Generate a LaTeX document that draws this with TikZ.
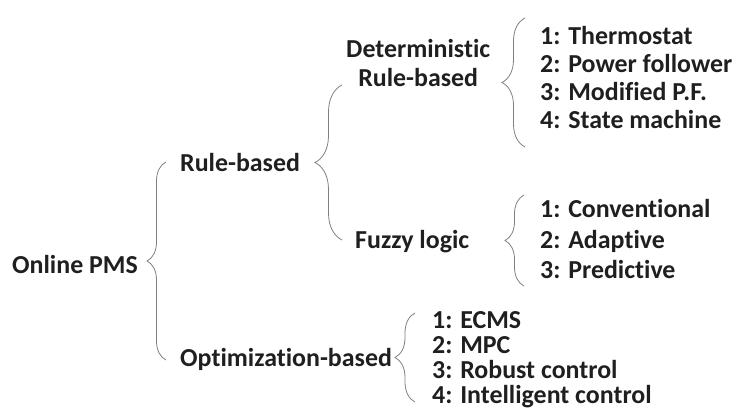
\documentclass[tikz,border=0pt]{standalone}
\usepackage{fontspec}
\setmainfont[Ligatures=NoCommon]{Carlito}
\usetikzlibrary{decorations.pathreplacing,calc}
\tikzset{
  lbl/.style={font=\bfseries\fontsize{26}{29}\selectfont, text=black!88, inner sep=0pt, text height=17bp, text depth=0pt, anchor=west},
  brc/.style={draw=black!50, line width=0.8bp, decorate, decoration={brace,amplitude=#1}}
}
\begin{document}
\begin{tikzpicture}[x=1bp,y=-1bp]
\useasboundingbox (0,0) rectangle (735,419);
\node[lbl] (pms) at (12,265) {Online PMS};
\node[lbl] (rule) at (180,163) {Rule-based};
\node[lbl] (opt) at (180,358) {Optimization-based};
\node[lbl,align=center] (det) at (346,78) {Deterministic\\Rule-based};
\node[lbl] (fuzzy) at (355,240) {Fuzzy logic};
% deterministic rules
\node[lbl] (d1) at (540,36) {1: Thermostat};
\node[lbl] (d2) at (540,64) {2: Power follower};
\node[lbl] (d3) at (540,92) {3: Modified P.F.};
\node[lbl] (d4) at (540,120) {4: State machine};
% fuzzy logic
\node[lbl] (f1) at (540,209) {1: Conventional};
\node[lbl] (f2) at (540,240) {2: Adaptive};
\node[lbl] (f3) at (540,270) {3: Predictive};
% optimization
\node[lbl] (o1) at (432,320) {1: ECMS};
\node[lbl] (o2) at (432,345) {2: MPC};
\node[lbl] (o3) at (432,370) {3: Robust control};
\node[lbl] (o4) at (432,395) {4: Intelligent control};
% braces
\draw[brc=19bp] ($(opt.west)+(-14,2)$) -- ($(rule.west)+(-14,-1)$);
\draw[brc=27bp] ($(fuzzy.west)+(-13,0)$) -- ($(det.west)+(-4,7)$);
\draw[brc=23bp] ($(d4.west)+(-15,27)$) -- ($(d1.west)+(-15,-18)$);
\draw[brc=19bp] ($(f3.west)+(-16,16)$) -- ($(f1.west)+(-16,-14)$);
\draw[brc=20bp] ($(o4.west)+(-17,7)$) -- ($(o1.west)+(-17,-7)$);
\end{tikzpicture}
\end{document}
